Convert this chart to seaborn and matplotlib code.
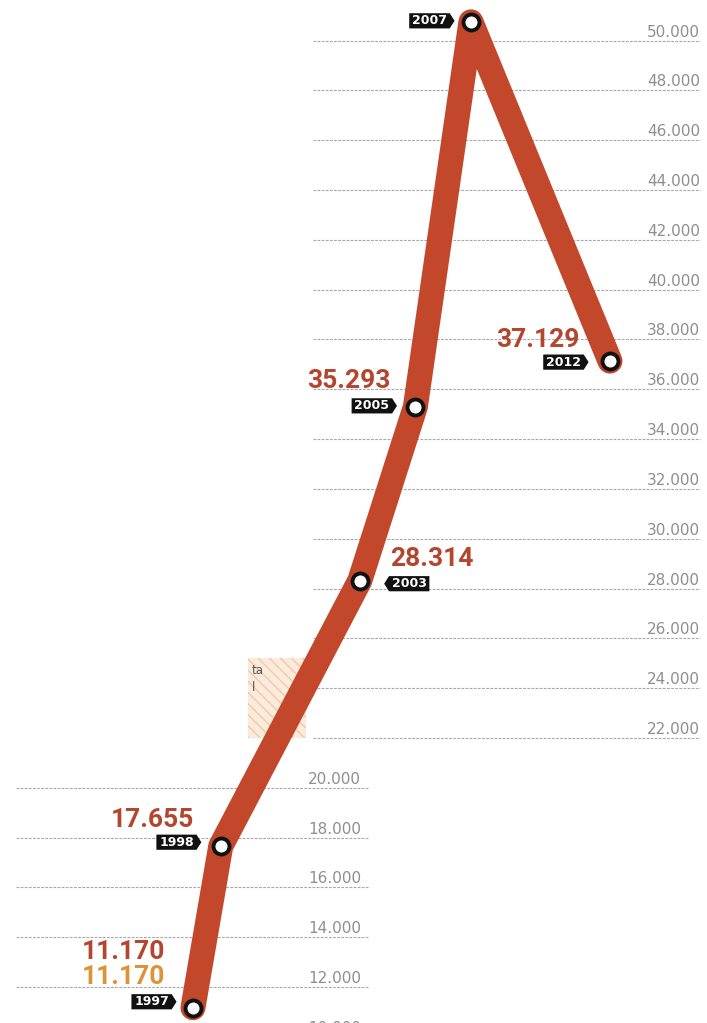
import matplotlib
matplotlib.use("Agg")
import matplotlib.pyplot as plt
import pandas as pd
import seaborn as sns
from matplotlib.path import Path
from matplotlib.patches import Rectangle

# ---- data -------------------------------------------------------------
years = [1997, 1998, 2003, 2005, 2007, 2012]
values = [11170, 17655, 28314, 35293, 50750, 37129]
value_labels = ["11.170", "17.655", "28.314", "35.293", None, "37.129"]
second_label_1997 = "11.170"
upper_ticks = list(range(22000, 50001, 2000))
lower_ticks = list(range(10000, 20001, 2000))

# ---- styling ----------------------------------------------------------
LINE = "#C2472B"
RED_TXT = "#B4452E"
ORANGE_TXT = "#DE9236"
GRID = "#a8a8a8"
TICK_TXT = "#8e8e8e"

sns.set_style("white")
plt.rcParams["font.family"] = ["DejaVu Sans"]

df = pd.DataFrame({"year": years, "value": values})

fig = plt.figure(figsize=(7.07, 10.23), dpi=100)
ax = fig.add_axes([0, 0, 1, 1])
ax.set_xlim(1990.06, 2015.49)
ax.set_ylim(10558, 51626)
ax.set_axis_off()

# dashed guide lines, two blocks with their own labels
for v in upper_ticks:
    ax.axhline(v, xmin=0.443, xmax=0.99, color=GRID, lw=0.8,
               ls=(0, (2.5, 1.2)), zorder=1)
    ax.annotate(f"{v:,}".replace(",", "."), xy=(0.99, v),
                xycoords=ax.get_yaxis_transform(), xytext=(0, 4),
                textcoords="offset pixels", ha="right", va="baseline",
                fontsize=11, color=TICK_TXT, zorder=2)
for v in lower_ticks:
    ax.axhline(v, xmin=0.023, xmax=0.52, color=GRID, lw=0.8,
               ls=(0, (2.5, 1.2)), zorder=1)
    ax.annotate(f"{v:,}".replace(",", "."), xy=(0.511, v),
                xycoords=ax.get_yaxis_transform(), xytext=(0, 4),
                textcoords="offset pixels", ha="right", va="baseline",
                fontsize=11, color=TICK_TXT, zorder=2)

# hatched note box behind the line
ax.add_patch(Rectangle((1998.98, 22000), 2.09, 3211, facecolor="#FBEBDC",
                       edgecolor="#F3C9A2", hatch="\\\\\\", lw=0, zorder=1.5))
ax.annotate("ta", xy=(1998.98, 25211), xytext=(4, -16),
            textcoords="offset pixels", fontsize=8.5, color="#555555",
            ha="left", va="baseline", zorder=1.6)
ax.annotate("l", xy=(1998.98, 25211), xytext=(4, -33),
            textcoords="offset pixels", fontsize=8.5, color="#555555",
            ha="left", va="baseline", zorder=1.6)

# main line
sns.lineplot(data=df, x="year", y="value", ax=ax, sort=False,
             color=LINE, linewidth=18, solid_joinstyle="round",
             solid_capstyle="round", marker="o", markersize=11.5,
             markerfacecolor="white", markeredgecolor="#111111",
             markeredgewidth=2.8, zorder=3)
ax.set_xlabel("")
ax.set_ylabel("")


def tag_box(direction):
    """Year badge: a small black tag with a point toward the marker."""
    def style(x0, y0, width, height, mutation_size):
        pad = 0.22 * mutation_size
        x0 -= pad
        y0 -= pad * 0.4
        width += 2 * pad
        height += 0.8 * pad
        x1, y1 = x0 + width, y0 + height
        ym = y0 + height / 2
        tip = height * 0.32
        if direction == "right":
            verts = [(x0, y0), (x1, y0), (x1 + tip, ym), (x1, y1),
                     (x0, y1), (x0, y0)]
        else:
            verts = [(x0, y0), (x1, y0), (x1, y1), (x0, y1),
                     (x0 - tip, ym), (x0, y0)]
        codes = [Path.MOVETO] + [Path.LINETO] * 4 + [Path.CLOSEPOLY]
        return Path(verts, codes)
    return style


# label layout per year: badge offset (px), value offset (px), side
layout = {
    1997: dict(badge=(-24, 6), val=(-28, 56), side="left"),
    1998: dict(badge=(-27, 4), val=(-27, 26), side="left"),
    2003: dict(badge=(32, -3), val=(30, 22), side="right"),
    2005: dict(badge=(-26, 1), val=(-25, 26), side="left"),
    2007: dict(badge=(-24, 1), val=None, side="left"),
    2012: dict(badge=(-29, -1), val=(-30, 21), side="left"),
}

for yr, v, lab in zip(years, values, value_labels):
    cfg = layout[yr]
    left = cfg["side"] == "left"
    ha = "right" if left else "left"
    ax.annotate(str(yr), xy=(yr, v), xytext=cfg["badge"],
                textcoords="offset pixels", ha=ha, va="center",
                fontsize=9, fontweight="bold", color="white",
                bbox=dict(boxstyle=tag_box("right" if left else "left"),
                          fc="#111111", ec="none"), zorder=5)
    if lab is not None:
        ax.annotate(lab, xy=(yr, v), xytext=cfg["val"],
                    textcoords="offset pixels", ha=ha, va="center",
                    fontsize=19, fontweight="bold", family=["Roboto", "DejaVu Sans"],
                    color=RED_TXT, zorder=5)

# second reading for 1997
ax.annotate(second_label_1997, xy=(years[0], values[0]), xytext=(-28, 31),
            textcoords="offset pixels", ha="right", va="center",
            fontsize=19, fontweight="bold", family=["Roboto", "DejaVu Sans"],
            color=ORANGE_TXT, zorder=5)

fig.savefig("out.png", dpi=100, facecolor="white")
